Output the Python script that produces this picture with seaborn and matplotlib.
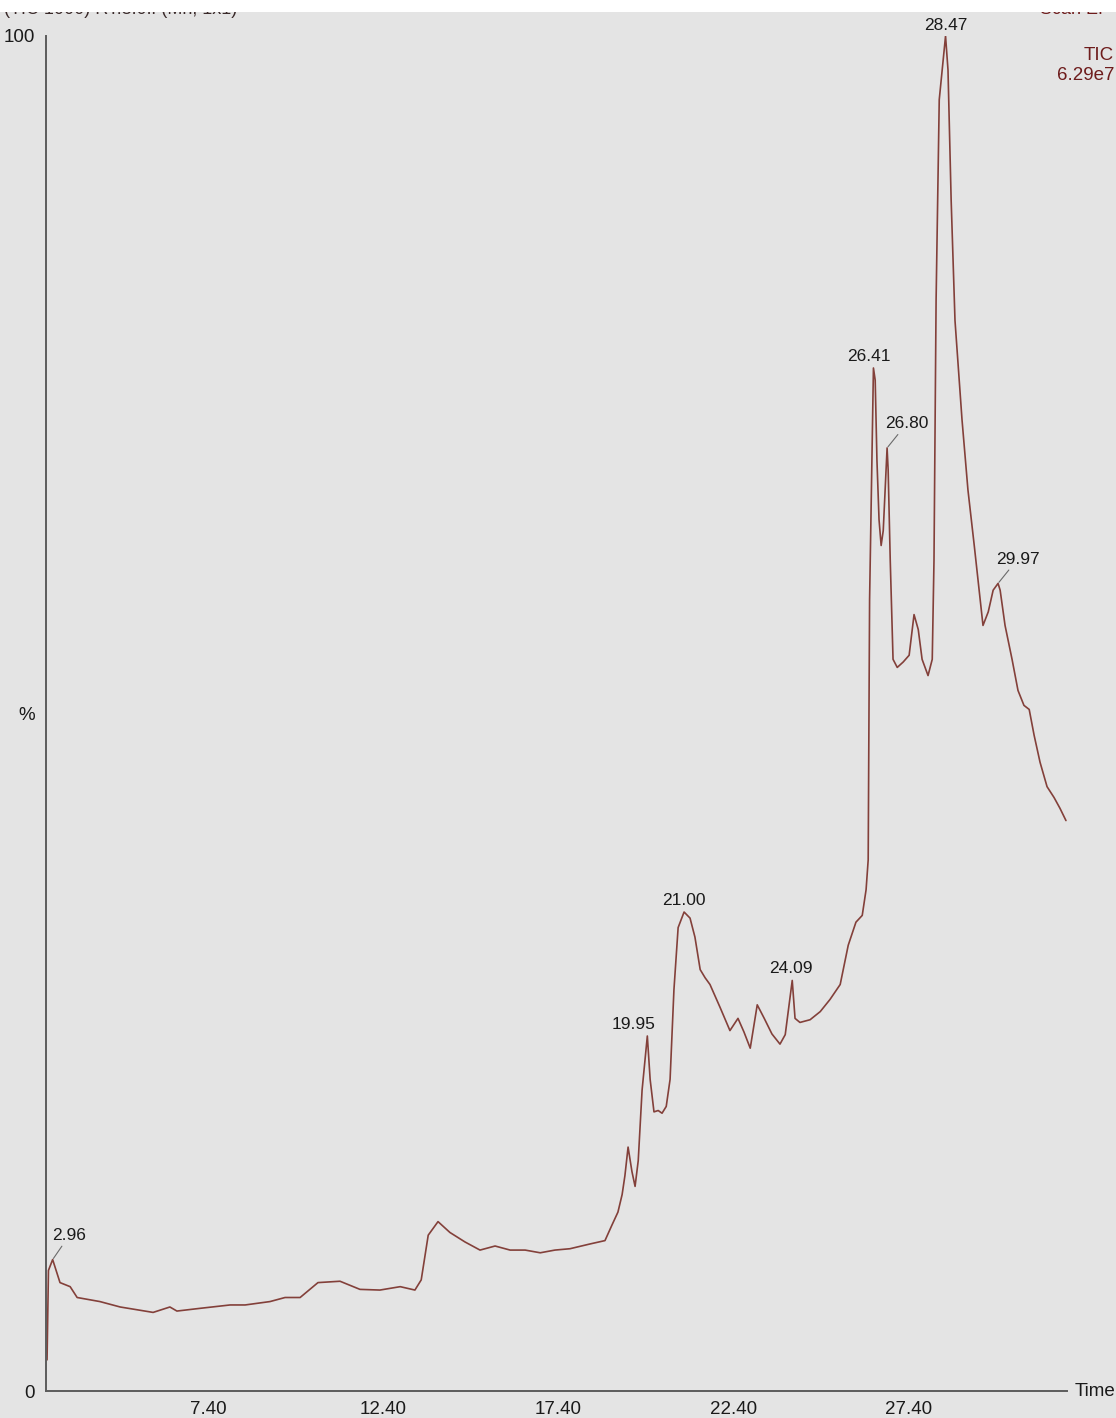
import numpy as np
import pandas as pd
import matplotlib
matplotlib.use("Agg")
import matplotlib.pyplot as plt
from matplotlib.patches import Rectangle
from matplotlib.ticker import FixedLocator
import seaborn as sns

# Total ion chromatogram: retention time (min) vs relative intensity (%)
time_min = [
    2.80, 2.84, 2.96, 3.17, 3.46, 3.66, 4.31, 4.89, 5.83, 6.31, 6.51, 7.17,
    8.03, 8.46, 9.17, 9.60, 10.03, 10.54, 11.17, 11.74, 12.31, 12.89, 13.31,
    13.49, 13.69, 13.97, 14.31, 14.74, 15.17, 15.60, 16.03, 16.46, 16.89,
    17.31, 17.74, 18.31, 18.74, 18.94, 19.11, 19.23, 19.31, 19.40, 19.51,
    19.60, 19.69, 19.80, 19.95, 20.03, 20.14, 20.26, 20.37, 20.49, 20.60,
    20.71, 20.83, 21.00, 21.17, 21.31, 21.46, 21.60, 21.74, 22.03, 22.31,
    22.54, 22.71, 22.89, 23.09, 23.29, 23.51, 23.74, 23.89, 24.09, 24.17,
    24.31, 24.60, 24.89, 25.17, 25.46, 25.69, 25.91, 26.09, 26.20, 26.26,
    26.30, 26.41, 26.46, 26.51, 26.57, 26.63, 26.69, 26.80, 26.83, 26.89,
    26.97, 27.09, 27.26, 27.43, 27.57, 27.69, 27.80, 27.97, 28.09, 28.14,
    28.20, 28.29, 28.47, 28.54, 28.63, 28.74, 28.94, 29.11, 29.29, 29.43,
    29.54, 29.69, 29.83, 29.97, 30.03, 30.17, 30.37, 30.54, 30.71, 30.86,
    31.00, 31.17, 31.37, 31.57, 31.74, 31.91,
]
intensity_pct = [
    2.3, 8.9, 9.7, 8.0, 7.7, 6.9, 6.6, 6.2, 5.8, 6.2, 5.9, 6.1,
    6.35, 6.35, 6.6, 6.9, 6.9, 8.0, 8.1, 7.5, 7.45, 7.7, 7.45,
    8.2, 11.5, 12.5, 11.7, 11.0, 10.4, 10.7, 10.4, 10.4, 10.2,
    10.4, 10.5, 10.85, 11.1, 12.25, 13.2, 14.5, 15.9, 18.0, 16.2,
    15.1, 17.0, 22.2, 26.2, 23.0, 20.6, 20.7, 20.5, 21.0, 23.0,
    29.6, 34.2, 35.35, 34.9, 33.5, 31.1, 30.5, 30.0, 28.3, 26.6,
    27.5, 26.5, 25.3, 28.5, 27.5, 26.35, 25.6, 26.3, 30.3, 27.5,
    27.2, 27.4, 28.0, 28.9, 30.0, 32.9, 34.6, 35.1, 37.0, 39.2,
    58.4, 75.5, 74.6, 68.7, 64.3, 62.4, 63.5, 69.6, 68.0, 61.3,
    54.0, 53.4, 53.8, 54.3, 57.3, 56.2, 54.0, 52.8, 54.0, 61.3,
    80.5, 95.3, 100.0, 97.5, 87.9, 79.0, 71.7, 66.5, 62.4, 59.1,
    56.5, 57.5, 59.1, 59.6, 59.1, 56.5, 54.0, 51.7, 50.6, 50.3,
    48.4, 46.4, 44.6, 43.8, 43.0, 42.1,
]

# Labelled peaks: retention time, offset of the label (points), leader line?
peak_times = [2.96, 19.95, 21.00, 24.09, 26.41, 26.80, 28.47, 29.97]
peak_values = [9.7, 26.2, 35.35, 30.3, 75.5, 69.6, 100.0, 59.6]
peak_label_dx = [12, -10, 0, -1, -3, 14, 0, 14]
peak_label_dy = [6, 3, 3, 3, 3, 6, 2, 6]
peak_leader = [True, False, False, False, False, True, False, True]

x_tick_labels = ["7.40", "12.40", "17.40", "22.40", "27.40"]
x_tick_values = [7.40, 12.40, 17.40, 22.40, 27.40]

df = pd.DataFrame({"time": time_min, "intensity": intensity_pct})

sns.set_style("white")
plt.rcParams["font.family"] = ["Liberation Sans", "DejaVu Sans"]

bg = "#e4e4e4"
axis_col = "#5c5c5c"
trace_col = "#83403a"
text_col = "#1a1a1a"
header_col = "#6e1c1c"

fig = plt.figure(figsize=(11.16, 14.18), dpi=100, facecolor=bg)
ax = fig.add_axes([46 / 1116, 27 / 1418, (1067 - 46) / 1116, (1391 - 36) / 1418])
ax.set_facecolor(bg)

sns.lineplot(data=df, x="time", y="intensity", ax=ax, color=trace_col,
             linewidth=1.2, estimator=None, sort=False)

ax.set_xlim(2.77, 31.94)
ax.set_ylim(0, 100)
ax.set_xlabel("")
ax.set_ylabel("")

for side in ("top", "right"):
    ax.spines[side].set_visible(False)
for side in ("left", "bottom"):
    ax.spines[side].set_color(axis_col)
    ax.spines[side].set_linewidth(1.4)

# x axis: labelled ticks every 5 min, mid ticks, minor ticks every 0.5 min
mid_ticks = [v + 2.5 for v in x_tick_values] + [x_tick_values[0] - 2.5]
major_pos = sorted(x_tick_values + mid_ticks)
label_map = dict(zip(x_tick_values, x_tick_labels))
major_lab = [next((lab for val, lab in label_map.items() if abs(v - val) < 1e-6), "")
             for v in major_pos]
ax.xaxis.set_major_locator(FixedLocator(major_pos))
ax.set_xticklabels(major_lab)
minor_pos = [2.90 + 0.5 * k for k in range(59) if 2.90 + 0.5 * k <= 31.9]
ax.xaxis.set_minor_locator(FixedLocator(minor_pos))
ax.tick_params(axis="x", which="major", direction="out", length=6, width=1.1,
               color=axis_col, pad=1, labelsize=13.5, labelcolor=text_col)
ax.tick_params(axis="x", which="minor", direction="inout", length=5, width=1.0,
               color=axis_col)

# y axis: only 0, % and 100 are labelled
ax.yaxis.set_major_locator(FixedLocator([0, 50, 100]))
ax.set_yticklabels(["0", "%", "100"])
ax.yaxis.set_minor_locator(FixedLocator([10, 20, 30, 40, 60, 70, 80, 90]))
ax.tick_params(axis="y", which="major", direction="in", length=6, width=1.0,
               color=axis_col, pad=8, labelsize=13.5, labelcolor=text_col)
ax.tick_params(axis="y", which="minor", direction="out", length=3, width=1.0,
               color=axis_col)

# peak annotations
for t, v, dx, dy, lead in zip(peak_times, peak_values, peak_label_dx,
                              peak_label_dy, peak_leader):
    kw = {}
    if lead:
        kw["arrowprops"] = dict(arrowstyle="-", color="#6a6a6a", lw=0.8,
                                shrinkA=0, shrinkB=1)
    ax.annotate(f"{t:.2f}", xy=(t, v), xytext=(dx, dy + (6 if lead else 0)),
                textcoords="offset points", ha="center", va="bottom",
                fontsize=12.5, color=text_col, annotation_clip=False, **kw)

fig.text(1075 / 1116, 1 - 1392 / 1418, "Time", ha="left", va="center",
         fontsize=13.5, color=text_col)

# header lines; the first one sits partly under the white page margin
fig.text(4 / 1116, 1 - 9 / 1418, "(TIC 1000) RT:3.0ff (Mn, 1x1)",
         ha="left", va="center", fontsize=13, color="#3a2a2a")
fig.text(1114 / 1116, 1 - 9 / 1418, "Scan EI+", ha="right", va="center",
         fontsize=13, color=header_col)
fig.text(1114 / 1116, 1 - 55 / 1418, "TIC", ha="right", va="center",
         fontsize=13.5, color=header_col)
fig.text(1114 / 1116, 1 - 75 / 1418, "6.29e7", ha="right", va="center",
         fontsize=13.5, color=header_col)
fig.patches.append(Rectangle((0, 1 - 12 / 1418), 1, 12 / 1418,
                             transform=fig.transFigure, facecolor="white",
                             edgecolor="none", zorder=10))

fig.savefig("out.png", dpi=100, facecolor=bg)
